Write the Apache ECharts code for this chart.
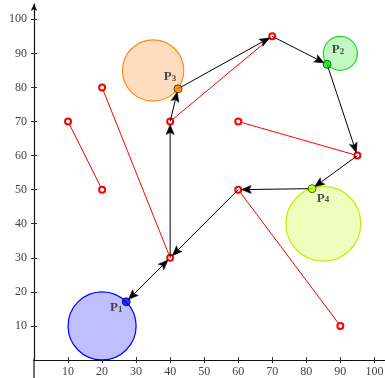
<!DOCTYPE html>
<html>
<head>
<meta charset="utf-8">
<script src="https://cdn.jsdelivr.net/npm/echarts@6/dist/echarts.min.js"></script>
<style>html,body{margin:0;padding:0;background:#fff}#c{width:385px;height:378px}</style>
</head>
<body>
<div id="c"></div>
<script>
// ---- data ----
const xTicks = [10, 20, 30, 40, 50, 60, 70, 80, 90, 100];
const yTicks = [10, 20, 30, 40, 50, 60, 70, 80, 90, 100];
const circleCenters = [[20, 10], [90, 90], [35, 85], [85, 40]];
const circleRadii = [10, 5, 9, 11];
const pointNames = ['P1', 'P2', 'P3', 'P4'];
const points = [[27.1, 17.1], [86.1, 86.8], [42.3, 79.6], [81.7, 50.3]];
const redSegments = [
  [[10, 70], [20, 50]],
  [[20, 80], [40, 30]],
  [[40, 70], [70, 95]],
  [[60, 70], [95, 60]],
  [[60, 50], [90, 10]]
];
const arrowFrom = [[27.1, 17.1], [60, 50], [40, 30], [40, 70], [42.3, 79.6], [70, 95], [86.1, 86.8], [95, 60], [81.7, 50.3]];
const arrowTo   = [[40, 30], [40, 30], [40, 70], [42.3, 79.6], [70, 95], [86.1, 86.8], [95, 60], [81.7, 50.3], [60, 50]];
const arrowBoth = [1, 0, 0, 0, 0, 0, 0, 0, 0];
// axis stubs below/left of the origin
const xAxisStub = [[-5, 0], [0, 0]];
const yAxisStub = [[0, -5.5], [0, 0]];

// ---- styles ----
const circleStroke = ['#0000ff', '#22dd22', '#ff8a1a', '#c4ee00'];
const circleFill = ['#bfbfff', '#c2f9c2', '#fedcbe', '#eeffbd'];
const pointFill = ['#0000ff', '#00ee00', '#ff8000', '#bfff00'];
const pointBorder = ['#00006a', '#104010', '#402000', '#304000'];
const labelOffsets = [[-10, 5], [11, -15], [-8, -13], [11, 9]];
const serif = 'Liberation Serif';
const HEAD_LEN = 10, HEAD_HALF = 4, TIP_GAP = 3;

function head(tip, px, py) {
  const bx = tip[0] + px * HEAD_LEN, by = tip[1] + py * HEAD_LEN;
  const nx = -py, ny = px;
  const mx = tip[0] + px * HEAD_LEN * 0.8, my = tip[1] + py * HEAD_LEN * 0.8;
  return {
    type: 'polygon',
    shape: { points: [tip, [bx + nx * HEAD_HALF, by + ny * HEAD_HALF], [mx, my], [bx - nx * HEAD_HALF, by - ny * HEAD_HALF]] },
    style: { fill: '#000', stroke: '#000', lineWidth: 0.5 }
  };
}

const series = [];
[xAxisStub, yAxisStub].forEach(stub => {
  series.push({
    type: 'line', data: stub, clip: false, symbol: 'none', z: 0, silent: true,
    lineStyle: { color: '#111', width: 1.2 }, animation: false
  });
});
series.push({
  type: 'custom',
  z: 1,
  data: circleCenters.map((c, i) => [c[0], c[1], circleRadii[i], i]),
  renderItem: function (params, api) {
    const i = api.value(3);
    const c = api.coord([api.value(0), api.value(1)]);
    const r = api.size([api.value(2), 0])[0];
    return {
      type: 'circle',
      shape: { cx: c[0], cy: c[1], r: r },
      style: { fill: circleFill[i], stroke: circleStroke[i], lineWidth: 1.2 }
    };
  }
});
redSegments.forEach(seg => {
  series.push({
    type: 'line', z: 3, data: seg, symbol: 'emptyCircle', symbolSize: 6,
    lineStyle: { color: '#ff0000', width: 1 },
    itemStyle: { color: '#ff0000', borderWidth: 0.8 },
    animation: false
  });
});
series.push({
  type: 'custom', z: 4,
  data: arrowFrom.map((f, i) => [f[0], f[1], arrowTo[i][0], arrowTo[i][1], arrowBoth[i]]),
  renderItem: function (params, api) {
    const a = api.coord([api.value(0), api.value(1)]);
    const b = api.coord([api.value(2), api.value(3)]);
    const both = api.value(4) === 1;
    const dx = b[0] - a[0], dy = b[1] - a[1];
    const L = Math.sqrt(dx * dx + dy * dy);
    const ux = dx / L, uy = dy / L;
    const tipB = [b[0] - ux * TIP_GAP, b[1] - uy * TIP_GAP];
    const tipA = [a[0] + ux * TIP_GAP, a[1] + uy * TIP_GAP];
    const start = both ? [tipA[0] + ux * HEAD_LEN * 0.8, tipA[1] + uy * HEAD_LEN * 0.8] : a;
    const end = [tipB[0] - ux * HEAD_LEN * 0.8, tipB[1] - uy * HEAD_LEN * 0.8];
    const children = [
      { type: 'line', shape: { x1: start[0], y1: start[1], x2: end[0], y2: end[1] }, style: { stroke: '#000', lineWidth: 1 } },
      head(tipB, -ux, -uy)
    ];
    if (both) children.push(head(tipA, ux, uy));
    return { type: 'group', children: children };
  },
  animation: false
});
series.push({
  type: 'scatter', z: 6, symbolSize: 8,
  data: points.map((p, i) => ({
    value: p,
    name: pointNames[i],
    itemStyle: { color: pointFill[i], borderColor: pointBorder[i], borderWidth: 1 },
    label: { offset: labelOffsets[i] }
  })),
  label: {
    show: true, position: 'inside',
    formatter: p => '{b|' + p.name[0] + '}{s|' + p.name.slice(1) + '}',
    rich: {
      b: { fontFamily: serif, fontWeight: 'bold', fontSize: 13, color: '#222', lineHeight: 14, verticalAlign: 'bottom' },
      s: { fontFamily: serif, fontWeight: 'bold', fontSize: 9, color: '#222', lineHeight: 14, verticalAlign: 'bottom', padding: [6, 0, 0, 0] }
    }
  },
  animation: false
});

const innerTickAxis = (ticks, max) => ({
  type: 'value', min: 0, max: max, position: undefined,
  splitLine: { show: false },
  axisLine: { show: false, onZero: false },
  axisTick: { show: true, inside: true, length: 3, customValues: ticks, lineStyle: { color: '#333' } },
  axisLabel: { show: false }
});

const chart = echarts.init(document.getElementById('c'), null, { renderer: 'canvas' });
chart.setOption({
  animation: false,
  grid: { left: 34, right: -3, top: 4, bottom: 18, containLabel: false, outerBoundsMode: 'none' },
  xAxis: [{
    type: 'value', min: 0, max: 104, position: 'bottom',
    splitLine: { show: false },
    axisLine: { onZero: false, lineStyle: { color: '#111', width: 1.2 } },
    axisTick: { show: true, length: 3, customValues: xTicks, lineStyle: { color: '#333' } },
    axisLabel: { customValues: xTicks, fontFamily: serif, fontSize: 12, color: '#444', margin: 6 }
  }, Object.assign(innerTickAxis(xTicks, 104), { position: 'bottom' })],
  yAxis: [{
    type: 'value', min: 0, max: 104.5, position: 'left',
    splitLine: { show: false },
    axisLine: { onZero: false, symbol: ['none', 'arrow'], symbolSize: [5, 7], lineStyle: { color: '#111', width: 1.2 } },
    axisTick: { show: true, length: 3, customValues: yTicks, lineStyle: { color: '#333' } },
    axisLabel: { customValues: yTicks, fontFamily: serif, fontSize: 12, color: '#444', margin: 7 }
  }, Object.assign(innerTickAxis(yTicks, 104.5), { position: 'left' })],
  series: series
});
</script>
</body>
</html>
